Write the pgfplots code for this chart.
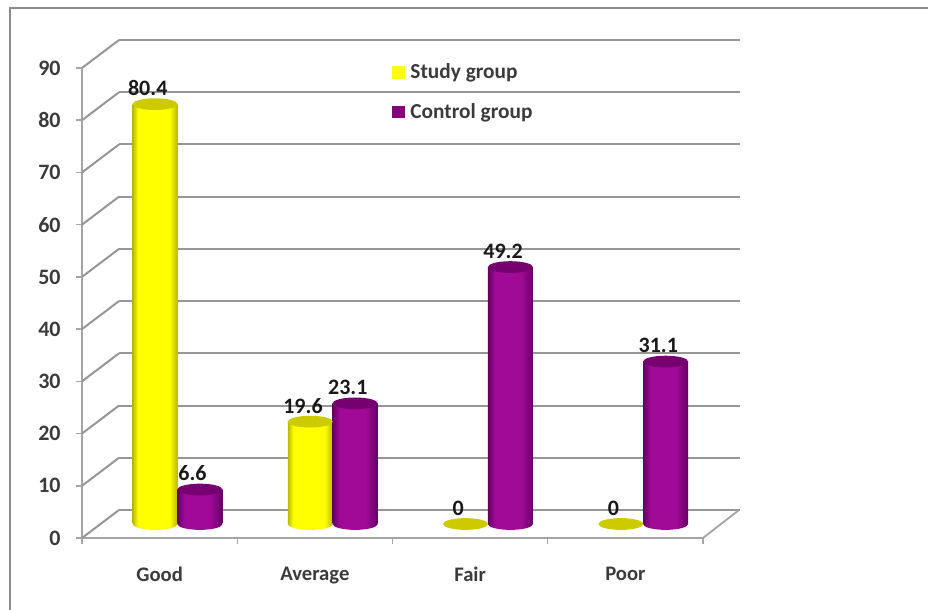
\documentclass[border=0pt]{standalone}
\usepackage{fontspec}
\setmainfont{Carlito}
\usepackage{pgfplots}
\pgfplotsset{compat=1.18}

\definecolor{wallgrey}{RGB}{150,150,150}
\definecolor{axisgrey}{RGB}{165,165,165}
\definecolor{framegrey}{RGB}{140,140,140}
\definecolor{studymain}{RGB}{255,255,0}
\definecolor{studyedge}{RGB}{185,185,0}
\definecolor{studycap}{RGB}{203,203,0}
\definecolor{controlmain}{RGB}{160,10,150}
\definecolor{controledge}{RGB}{100,0,100}
\definecolor{controlcap}{RGB}{118,0,112}
\definecolor{inktext}{RGB}{25,25,25}

% Cylinder side shadings: dark rims, bright centre
\pgfdeclarehorizontalshading{studycyl}{100bp}{
  color(0bp)=(studyedge); color(25bp)=(studyedge); color(31bp)=(studymain);
  color(66bp)=(studymain); color(75bp)=(studyedge); color(100bp)=(studyedge)}
\pgfdeclarehorizontalshading{controlcyl}{100bp}{
  color(0bp)=(controledge); color(25bp)=(controledge); color(33bp)=(controlmain);
  color(62bp)=(controlmain); color(75bp)=(controledge); color(100bp)=(controledge)}

% Elliptical caps and feet of the cylinders
\pgfdeclareplotmark{studytop}{\fill[studycap,draw=none,rotate=6] (0pt,0pt) ellipse [x radius=16.9pt, y radius=4.4pt];}
\pgfdeclareplotmark{controltop}{\fill[controlcap,draw=none,rotate=6] (0pt,0pt) ellipse [x radius=16.9pt, y radius=4.4pt];}
\pgfdeclareplotmark{studyfoot}{\shade[shading=studycyl,draw=none,rotate=6] (0pt,0pt) ellipse [x radius=16.9pt, y radius=4.4pt];}
\pgfdeclareplotmark{controlfoot}{\shade[shading=controlcyl,draw=none,rotate=6] (0pt,0pt) ellipse [x radius=16.9pt, y radius=4.4pt];}

\pgfplotsset{
  cylinder body/.style={ybar, bar width=33.75pt, /pgf/bar shift=0pt, draw=none, yshift=10.5pt, forget plot},
  cylinder mark/.style={only marks, yshift=10.5pt, forget plot},
  value labels/.style={
    nodes near coords,
    point meta=y,
    every node near coord/.append style={
      anchor=center, xshift=-5.5pt, yshift=12pt,
      font=\fontsize{16.5}{17}\selectfont\bfseries, text=inktext,
      /pgf/number format/assume math mode=true}
  }
}

\begin{document}
\begin{tikzpicture}
\path[use as bounding box] (-61.5pt,-54pt) rectangle (634.5pt,403.5pt);
% Outer frame of the chart area
\draw[framegrey, line width=1.1pt] (-54pt,-54pt) -- (-54pt,397.5pt) -- (634.5pt,397.5pt);
\begin{axis}[
  scale only axis,
  width=465.75pt,
  height=352.5pt,
  clip=false,
  xmin=-0.5, xmax=3.5,
  ymin=0, ymax=90,
  axis lines=left,
  axis line style={-, draw=axisgrey, line width=1.4pt},
  tick style={draw=axisgrey, line width=1.1pt},
  tick align=outside,
  major tick length=4.5pt,
  xtick={-0.5,0.5,1.5,2.5,3.5},
  xticklabels={},
  extra x ticks={0,1,2,3},
  extra x tick labels={Good,Average,Fair,Poor},
  extra x tick style={major tick length=0pt},
  ytick={0,10,...,90},
  xticklabel style={font=\fontsize{15.5}{17}\selectfont\bfseries, text=inktext!85!white, yshift=-18pt},
  yticklabel style={font=\fontsize{16.5}{17}\selectfont\bfseries, text=inktext!85!white, xshift=-8pt,
    /pgf/number format/assume math mode=true},
  legend style={at={(0.4997,1.015)}, anchor=north west, draw=none, fill=none,
    font=\fontsize{16}{17}\selectfont\bfseries, text=inktext!85!white,
    /tikz/row sep=13pt, /tikz/inner sep=0pt, /tikz/outer sep=0pt},
  legend cell align=left,
]
% Back wall and floor lines, with their slanted returns on the side wall
\pgfplotsinvokeforeach{0,10,...,90}{
  \addplot[wallgrey, line width=1.5pt, xshift=27.75pt, yshift=21pt, forget plot]
    coordinates {(-0.5,#1) (3.5,#1)};
  \draw[wallgrey, line width=1.5pt] (axis cs:-0.5,#1) -- ++(27.75pt,21pt);
}
\draw[axisgrey, line width=1.4pt] (axis cs:3.5,0) -- ++(27pt,21pt);

% Study group: feet, one shaded body per bar, caps with value labels
\addplot[cylinder mark, mark=studyfoot, xshift=-3.4pt]
  coordinates {(0,0) (1,0)};
\addplot[cylinder body, shade, shading=studycyl, xshift=-3.4pt] coordinates {(0,80.4)};
\addplot[cylinder body, shade, shading=studycyl, xshift=-3.4pt] coordinates {(1,19.6)};
\addplot[cylinder mark, mark=studytop, xshift=-3.4pt, value labels]
  coordinates {(0,80.4) (1,19.6) (2,0) (3,0)};

% Control group
\addplot[cylinder mark, mark=controlfoot, xshift=30.2pt]
  coordinates {(0,0) (1,0) (2,0) (3,0)};
\addplot[cylinder body, shade, shading=controlcyl, xshift=30.2pt] coordinates {(0,6.6)};
\addplot[cylinder body, shade, shading=controlcyl, xshift=30.2pt] coordinates {(1,23.1)};
\addplot[cylinder body, shade, shading=controlcyl, xshift=30.2pt] coordinates {(2,49.2)};
\addplot[cylinder body, shade, shading=controlcyl, xshift=30.2pt] coordinates {(3,31.1)};
\addplot[cylinder mark, mark=controltop, xshift=30.2pt, value labels]
  coordinates {(0,6.6) (1,23.1) (2,49.2) (3,31.1)};

% Legend swatches
\addlegendimage{legend image code/.code={\fill[studymain] (0pt,-4.3pt) rectangle (9pt,4.3pt);}}
\addlegendentry{\hspace{2.2pt}Study group}
\addlegendimage{legend image code/.code={\fill[controlmain!80!black] (0pt,-4.3pt) rectangle (9pt,4.3pt);}}
\addlegendentry{\hspace{2.2pt}Control group}
\end{axis}
\end{tikzpicture}
\end{document}
